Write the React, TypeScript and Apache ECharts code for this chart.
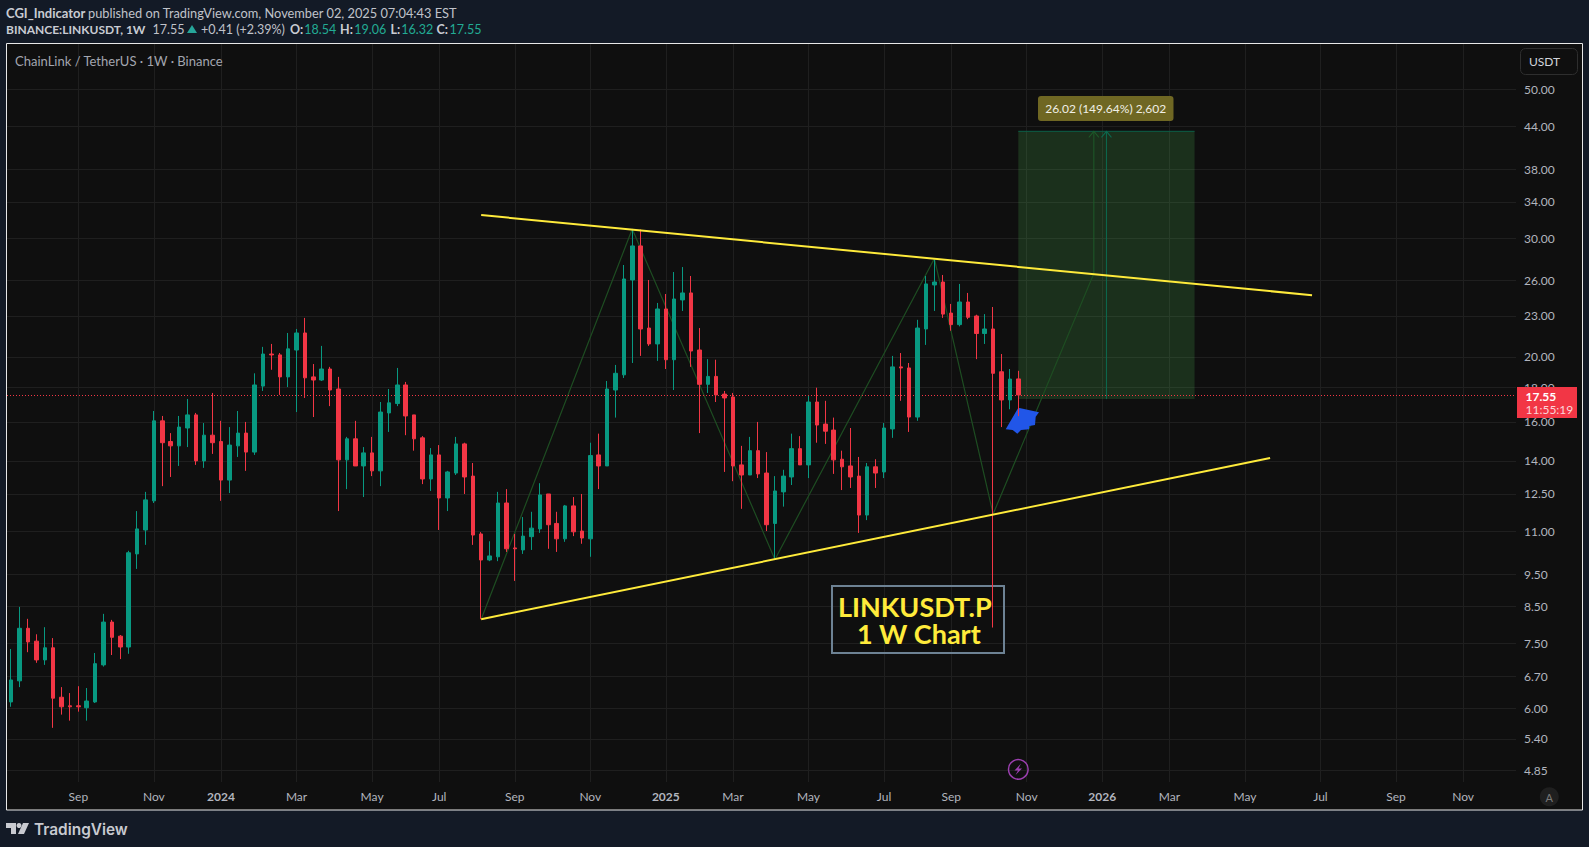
import React, { useEffect, useRef } from "react";
import * as echarts from "echarts";

// ---- data; the x axis counts weeks, week 0 = 2023-07-10 ----
const opens = [6.13,6.59,7.89,7.55,7.08,7.38,6.23,6.05,6.05,6.01,6.13,6.96,8.06,7.68,7.40,10.18,11.05,12.21,16.06,14.96,14.74,15.67,16.39,14.00,15.29,14.96,13.11,14.74,15.40,14.43,18.09,20.19,20.13,18.67,20.47,21.70,18.67,18.47,19.18,17.91,14.05,15.10,13.76,14.39,13.53,16.50,17.04,18.16,16.39,15.15,13.16,14.29,12.33,13.43,14.84,13.29,10.90,9.97,10.08,12.12,10.39,10.32,10.80,11.09,12.50,11.30,10.72,12.00,11.01,10.72,14.29,13.76,17.85,18.80,26.02,29.24,22.07,20.90,23.56,19.80,24.30,24.89,20.47,18.20,18.70,17.60,17.43,13.81,13.34,14.50,13.43,11.30,12.59,13.25,14.60,13.81,17.13,15.88,15.56,14.08,13.76,13.29,11.63,13.72,13.48,15.62,19.32,19.25,16.27,22.00,25.58,25.84,23.23,22.33,24.13,23.00,21.66,22.00,19.00,17.25,18.54];
const closes = [6.61,7.89,7.53,7.08,7.38,6.21,6.03,6.03,6.03,6.15,6.99,8.06,7.65,7.40,10.22,11.09,12.25,16.06,14.90,14.74,15.72,16.39,14.00,15.29,14.90,13.11,14.78,15.40,14.43,18.16,20.19,20.13,18.67,20.55,21.70,18.61,18.47,19.18,17.85,14.05,15.10,13.76,14.39,13.53,16.55,17.08,18.16,16.33,15.10,13.16,14.29,12.33,13.48,14.84,13.25,10.86,9.97,10.11,12.12,10.36,10.36,10.82,11.12,12.46,11.25,10.72,12.00,10.98,10.75,14.26,13.76,17.91,18.90,26.11,29.24,22.00,20.90,23.56,19.80,24.38,24.89,20.40,18.20,18.70,17.55,17.37,13.76,13.34,14.50,13.39,11.25,12.63,13.29,14.60,13.81,17.13,15.83,15.50,14.05,13.72,13.25,11.63,13.72,13.43,15.67,19.32,19.25,16.27,22.07,25.67,25.84,23.15,22.33,24.13,22.90,21.66,22.00,18.90,17.25,18.53,17.55];
const lows = [6.03,6.45,7.27,7.01,6.96,5.61,5.87,5.75,5.93,5.75,6.11,6.92,7.20,7.10,7.23,9.67,10.50,12.12,12.84,13.25,13.76,14.68,13.81,13.67,14.34,12.21,12.54,14.19,13.53,14.29,17.79,19.13,17.55,18.03,16.55,17.37,16.27,18.41,16.89,11.79,12.71,13.76,12.37,13.29,12.84,15.46,16.89,15.29,14.50,12.93,12.63,11.05,11.79,13.34,12.50,10.50,8.14,9.93,9.93,10.25,9.28,10.18,10.32,10.94,10.36,10.25,10.61,10.82,10.54,10.08,12.71,13.76,16.24,18.60,19.58,20.06,20.76,19.72,19.18,17.85,23.40,19.32,15.40,17.67,17.13,13.48,13.06,11.88,13.34,13.20,11.01,9.99,11.97,12.89,13.81,13.20,14.90,14.84,13.39,12.67,12.76,10.94,11.43,12.76,13.20,15.15,17.20,15.46,16.06,20.83,23.40,22.85,21.87,22.20,22.75,19.84,20.90,7.91,15.72,16.71,16.32];
const highs = [7.35,8.49,8.15,7.73,7.92,7.63,6.45,6.32,6.47,6.43,7.25,8.29,8.12,7.71,10.29,11.79,12.59,16.61,16.33,15.40,16.33,17.31,16.50,15.94,17.67,16.06,15.72,16.61,16.00,18.90,20.69,20.90,20.26,21.70,22.00,22.85,19.51,20.76,19.32,18.67,15.20,16.06,14.68,15.20,17.13,17.91,19.25,18.35,16.39,15.24,14.63,14.78,13.53,15.20,14.90,13.90,10.97,10.63,12.59,12.71,10.90,11.55,11.76,12.97,12.50,11.76,12.04,12.37,12.50,14.90,15.37,18.41,19.45,27.39,30.99,30.93,26.02,24.05,24.80,26.74,27.20,26.38,22.07,19.84,19.80,17.79,17.67,14.74,15.20,16.00,14.43,13.29,13.58,15.37,15.24,17.49,17.99,17.20,16.24,14.50,15.67,14.19,13.90,14.08,15.94,20.06,20.26,19.58,22.70,26.38,27.87,26.47,23.97,25.67,24.89,23.10,23.15,23.72,20.19,19.18,19.06];

const priceTicks = [4.85, 5.4, 6, 6.7, 7.5, 8.5, 9.5, 11, 12.5, 14, 16, 18, 20, 23, 26, 30, 34, 38, 44, 50];
const timeTickWeeks = [8, 17, 25, 34, 43, 51, 60, 69, 78, 86, 95, 104, 112, 121, 130, 138, 147, 156, 165, 173];
const timeTickNames = ["Sep", "Nov", "2024", "Mar", "May", "Jul", "Sep", "Nov", "2025", "Mar", "May", "Jul", "Sep", "Nov", "2026", "Mar", "May", "Jul", "Sep", "Nov"];

const lastPrice = 17.55;
const upperTrendWeeks = [56, 155];
const upperTrendPrices = [32.5, 24.7];
const lowerTrendWeeks = [56, 150];
const lowerTrendPrices = [8.14, 14.14];
const zigzagWeeks = [56, 74, 91, 110, 117, 129];
const zigzagPrices = [8.14, 30.98, 9.99, 28.0, 11.67, 26.6];
const targetTop = 43.3;
const targetBottom = 17.3;
const targetWeeks = [120, 141];
const arrowAWeek = 129;
const arrowAStart = 26.6;
const arrowBWeek = 130.5;
const arrowBStart = 17.3;

const UP = "#089981";
const DOWN = "#F23645";
const BG = "#0F0F0F";
const PAGE = "#131A26";
const TEXT = "#B2B5BE";
const FONT = 'Lato, "Noto Sans", sans-serif';

const pts = (w: number[], p: number[]) => w.map((x, i) => [x, p[i]]);

function txt(text: string, x: number, y: number, font: string, fill: string, extra: any = {}) {
  return { type: "text", x, y, z: 20, silent: true, style: { text, font, fill, verticalAlign: "middle", ...extra } };
}

function overlay(name: string, data: any[], color: string, width: number, z: number, extra: any = {}) {
  return {
    name, type: "line", data, z, symbol: "none", silent: true, animation: false,
    lineStyle: { color, width }, itemStyle: { color }, ...extra,
  };
}

const chevron = (color: string) => ({
  symbol: "path://M0 7L5 0L10 7",
  symbolSize: [10, 6],
  symbolOffset: [0, 3],
  itemStyle: { color: "transparent", borderColor: color, borderWidth: 1 },
});

export default function App() {
  const ref = useRef<HTMLDivElement>(null);
  useEffect(() => {
    const chart = echarts.init(ref.current!, null, { renderer: "svg" });
    const candles = opens.map((o, i) => [i, o, closes[i], lows[i], highs[i]]);
    const grey = "#1F1F1F";
    const b = (s: string) => `bold ${s} ${FONT}`;
    const r = (s: string) => `${s} ${FONT}`;
    const TEAL = "#22ab94";
    chart.setOption({
      animation: false,
      backgroundColor: PAGE,
      grid: { left: 7, right: 73, top: 44, bottom: 65, containLabel: false, show: false },
      xAxis: {
        type: "value",
        min: -0.5,
        max: 179.3,
        axisLine: { show: false },
        axisTick: { show: false, customValues: timeTickWeeks },
        splitLine: { show: true, lineStyle: { color: grey, width: 1 } },
        axisLabel: {
          customValues: timeTickWeeks,
          margin: 8,
          color: TEXT,
          fontFamily: FONT,
          fontSize: 12,
          hideOverlap: false,
          formatter: (v: number) => {
            const name = timeTickNames[timeTickWeeks.indexOf(v)] ?? "";
            return /^\d/.test(name) ? `{y|${name}}` : name;
          },
          rich: { y: { fontWeight: "bold", color: TEXT, fontFamily: FONT, fontSize: 12 } },
        },
      },
      yAxis: {
        type: "log",
        logBase: 10,
        position: "right",
        min: 4.66,
        max: 58.4,
        axisLine: { show: false },
        axisTick: { show: false, customValues: priceTicks },
        splitLine: { show: true, lineStyle: { color: grey, width: 1 } },
        axisLabel: {
          customValues: priceTicks,
          margin: 8,
          color: TEXT,
          fontFamily: FONT,
          fontSize: 12,
          align: "left",
          formatter: (v: number) => Number(v).toFixed(2),
        },
      },
      series: [
        overlay("Target zone", [[targetWeeks[0], targetBottom]], "transparent", 0, 1, {
          markArea: {
            silent: true,
            itemStyle: { color: "rgba(76,175,80,0.21)", borderWidth: 0 },
            data: [[{ xAxis: targetWeeks[0], yAxis: targetTop }, { xAxis: targetWeeks[1], yAxis: targetBottom }]],
          },
        }),
        overlay("Target top", pts(targetWeeks, [targetTop, targetTop]), "#0c5f48", 1, 1),
        overlay("Zigzag", pts(zigzagWeeks, zigzagPrices), "#1E4D22", 1.2, 1),
        overlay("Arrow A", [
          { value: [arrowAWeek, arrowAStart], symbol: "none" },
          { value: [arrowAWeek, targetTop], ...chevron("#1E5A2A") },
        ], "#1E5A2A", 1, 1, { symbol: "circle", showSymbol: true, showAllSymbol: true }),
        overlay("Arrow B", [
          { value: [arrowBWeek, arrowBStart], symbol: "none" },
          { value: [arrowBWeek, targetTop], ...chevron("#0c6a50") },
        ], "#0c6a50", 1, 1, { symbol: "circle", showSymbol: true, showAllSymbol: true }),
        {
          name: "LINKUSDT",
          type: "candlestick",
          data: candles,
          encode: { x: 0, y: [1, 2, 3, 4] },
          barWidth: 4,
          z: 3,
          silent: true,
          itemStyle: { color: UP, color0: DOWN, borderColor: UP, borderColor0: DOWN, borderColorDoji: DOWN, borderWidth: 1 },
          markLine: {
            silent: true,
            symbol: "none",
            z: 2,
            label: { show: false },
            lineStyle: { color: DOWN, width: 1, type: [1, 2] },
            data: [{ yAxis: lastPrice }],
          },
        },
        overlay("Upper trend", pts(upperTrendWeeks, upperTrendPrices), "#FFEB3B", 2, 4),
        overlay("Lower trend", pts(lowerTrendWeeks, lowerTrendPrices), "#FFEB3B", 2, 4),
      ],
      graphic: [
        // panel background and frame
        { type: "rect", z: -1, silent: true, shape: { x: 6.5, y: 43.5, width: 1576, height: 766.5 }, style: { fill: BG } },
        { type: "rect", z: 10, silent: true, shape: { x: 6.5, y: 43.5, width: 1576, height: 766.5 }, style: { fill: "none", stroke: "#E8E8E8", lineWidth: 1 } },
        // header
        txt("CGI_Indicator", 6, 12.5, b("13px"), "#C9CCD3"),
        txt("published on TradingView.com, November 02, 2025 07:04:43 EST", 88, 12.5, r("12.8px"), "#C0C3CA"),
        txt("BINANCE:LINKUSDT, 1W", 6, 29.5, b("12px"), "#C9CCD3"),
        txt("17.55", 152.5, 29.5, r("12.5px"), "#C0C3CA"),
        { type: "polygon", z: 20, silent: true, shape: { points: [[192, 25], [197, 33], [187, 33]] }, style: { fill: "#26A69A" } },
        txt("+0.41 (+2.39%)", 201, 29.5, r("12.5px"), "#C0C3CA"),
        txt("O:", 290, 29.5, b("12.5px"), "#C9CCD3"),
        txt("18.54", 304.3, 29.5, r("12.5px"), TEAL),
        txt("H:", 340, 29.5, b("12.5px"), "#C9CCD3"),
        txt("19.06", 354.3, 29.5, r("12.5px"), TEAL),
        txt("L:", 390.5, 29.5, b("12.5px"), "#C9CCD3"),
        txt("16.32", 401.3, 29.5, r("12.5px"), TEAL),
        txt("C:", 436.5, 29.5, b("12.5px"), "#C9CCD3"),
        txt("17.55", 449.5, 29.5, r("12.5px"), TEAL),
        txt("ChainLink / TetherUS · 1W · Binance", 15, 60.5, r("13px"), "#A3A6AF"),
        // USDT button
        { type: "rect", z: 20, silent: true, shape: { x: 1520.5, y: 48.5, width: 57, height: 26, r: 5 }, style: { fill: BG, stroke: "#2E2E2E", lineWidth: 1 } },
        txt("USDT", 1529, 61.5, r("12px"), "#D1D4DC"),
        // last price tag
        { type: "rect", z: 20, silent: true, shape: { x: 1517, y: 387, width: 60, height: 31 }, style: { fill: DOWN } },
        txt("17.55", 1525.5, 396, b("12px"), "#FFFFFF"),
        txt("11:55:19", 1525.5, 409.5, r("12px"), "#FBD5D9"),
        // target label
        { type: "rect", z: 20, silent: true, shape: { x: 1038, y: 96, width: 135.5, height: 25, r: 3 }, style: { fill: "#6F6723" } },
        txt("26.02 (149.64%) 2,602", 1105.7, 108.5, r("12px"), "#F0EFE6", { align: "center" }),
        // hand drawn blue mark
        { type: "polygon", z: 2, silent: true, shape: { points: [[1018.3, 407.7], [1039, 412.3], [1035.7, 416.7], [1035, 425], [1029.3, 426], [1029, 429.3], [1021, 430], [1017.3, 433.7], [1012.7, 430], [1005.7, 429.3]] }, style: { fill: "#2156E8" } },
        // text note
        { type: "rect", z: 2, silent: true, shape: { x: 832, y: 586, width: 172, height: 67 }, style: { fill: "none", stroke: "#6D8294", lineWidth: 2 } },
        txt("LINKUSDT.P", 838, 606, b("27px"), "#FFEB3B"),
        txt("1 W Chart", 857, 633, b("27px"), "#FFEB3B"),
        // bolt icon
        { type: "circle", z: 20, silent: true, shape: { cx: 1018.3, cy: 769.3, r: 9.8 }, style: { fill: "none", stroke: "#9C3FB0", lineWidth: 1.5 } },
        { type: "polygon", z: 20, silent: true, shape: { points: [[1021, 763.5], [1014.5, 770.5], [1018, 770.5], [1015.5, 775], [1022, 768.5], [1018.5, 768.5]] }, style: { fill: "#9C3FB0" } },
        // auto button
        { type: "circle", z: 20, silent: true, shape: { cx: 1549.3, cy: 796.7, r: 9.5 }, style: { fill: "#1F1F1F" } },
        txt("A", 1549.3, 797, r("11px"), "#7A7A7A", { align: "center" }),
        // logo
        { type: "polygon", z: 20, silent: true, shape: { points: [[6, 823], [16, 823], [16, 834], [11, 834], [11, 828], [6, 828]] }, style: { fill: "#C8CAD0" } },
        { type: "circle", z: 20, silent: true, shape: { cx: 19, cy: 825.5, r: 2.5 }, style: { fill: "#C8CAD0" } },
        { type: "polygon", z: 20, silent: true, shape: { points: [[23, 823], [29, 823], [24, 834], [18, 834]] }, style: { fill: "#C8CAD0" } },
        txt("TradingView", 34, 829, '600 15.4px Inter, sans-serif', "#C8CAD0"),
      ],
    });
    return () => chart.dispose();
  }, []);
  return <div ref={ref} style={{ position: "fixed", left: 0, top: 0, width: 1589, height: 847 }} />;
}
